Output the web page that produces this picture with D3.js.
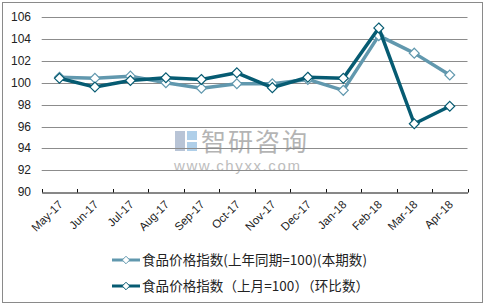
<!DOCTYPE html>
<html><head><meta charset="utf-8">
<script src="https://cdn.jsdelivr.net/npm/d3@7"></script>
<style>html,body{margin:0;padding:0;background:#fff}svg{display:block}</style>
</head><body>
<script>
const categories = ["May-17","Jun-17","Jul-17","Aug-17","Sep-17","Oct-17","Nov-17","Dec-17","Jan-18","Feb-18","Mar-18","Apr-18"];
const seriesYoY = [100.5,100.4,100.6,100.0,99.5,99.9,99.9,100.3,99.3,104.3,102.7,100.7];
const seriesMoM = [100.4,99.6,100.2,100.45,100.3,100.9,99.55,100.5,100.4,105.0,96.25,97.85];
const yTicks = [90,92,94,96,98,100,102,104,106];
const seriesNames = ["食品价格指数(上年同期=100)(本期数)","食品价格指数（上月=100）（环比数）"];
const colors = ["#6198ae","#065b72"];

const W=486,H=306;
const svg=d3.select("body").append("svg").attr("width",W).attr("height",H);
svg.append("rect").attr("x",2.5).attr("y",2.5).attr("width",480).attr("height",300).attr("fill","#fff").attr("stroke","#8a8a8a");

const x=d3.scaleBand().domain(categories).range([41.7,467.5]);
const y=d3.scaleLinear().domain([90,106]).range([192.2,17]);

// watermark
const wm=svg.append("g").attr("opacity",0.55);
wm.append("rect").attr("x",175).attr("y",131).attr("width",10).attr("height",20).attr("fill","#7f95b5");
wm.append("rect").attr("x",187).attr("y",131).attr("width",10).attr("height",9).attr("fill","#6fa8d8");
wm.append("rect").attr("x",187).attr("y",142).attr("width",10).attr("height",9).attr("fill","#6fa8d8");
wm.append("text").attr("x",201).attr("y",151).attr("font-family","Noto Sans CJK SC").attr("font-size",25).attr("fill","#777").attr("letter-spacing",2).text("智研咨询");
wm.append("text").attr("x",174).attr("y",171).attr("font-family","Liberation Sans, Arial").attr("font-size",15).attr("fill","#888").attr("letter-spacing",1.6).text("www.chyxx.com");

// gridlines
svg.append("g").selectAll("line").data(yTicks.filter(d=>d>90)).join("line")
 .attr("x1",41.7).attr("x2",467.5).attr("y1",d=>Math.round(y(d))+0.5).attr("y2",d=>Math.round(y(d))+0.5)
 .attr("stroke","#8c8c8c").attr("stroke-width",1);

// y labels
svg.append("g").selectAll("text").data(yTicks).join("text")
 .attr("x",31).attr("y",d=>y(d)+4).attr("text-anchor","end")
 .attr("font-family","Liberation Sans, Arial").attr("font-size",12).attr("fill","#222").text(d=>d);

// x axis
const ax=svg.append("g").attr("transform",`translate(0,${Math.round(y(90))+0.5})`)
 .call(d3.axisBottom(x).tickSize(0).tickFormat(""));
ax.select(".domain").attr("stroke","#111");
const bounds=categories.map(c=>x(c)).concat([x.range()[1]]);
svg.append("g").selectAll("line").data(bounds).join("line")
 .attr("x1",d=>Math.round(d)+0.5).attr("x2",d=>Math.round(d)+0.5)
 .attr("y1",Math.round(y(90))-3).attr("y2",Math.round(y(90))+0.5).attr("stroke","#111");

svg.append("g").selectAll("text").data(categories).join("text")
 .attr("transform",d=>`translate(${x(d)+x.bandwidth()/2+4},${y(90)+13}) rotate(-45)`)
 .attr("text-anchor","end").attr("font-family","Liberation Sans, Arial").attr("font-size",11.5).attr("fill","#222").text(d=>d);

const line=d3.line().x((d,i)=>x(categories[i])+x.bandwidth()/2).y(d=>y(d));
const diamond=d3.symbol().type(d3.symbolDiamond2).size(62);
[seriesYoY,seriesMoM].forEach((s,k)=>{
  svg.append("path").datum(s).attr("d",line).attr("fill","none").attr("stroke",colors[k]).attr("stroke-width",3.5).attr("stroke-linejoin","round");
  svg.append("g").selectAll("path").data(s).join("path")
   .attr("transform",(d,i)=>`translate(${x(categories[i])+x.bandwidth()/2},${y(d)})`)
   .attr("d",diamond).attr("fill","#fff").attr("stroke",colors[k]).attr("stroke-width",1.2);
});

// legend
const ly=[260,286];
const lw=[225,227];
seriesNames.forEach((n,k)=>{
  const g=svg.append("g");
  g.append("line").attr("x1",112).attr("x2",140).attr("y1",ly[k]).attr("y2",ly[k]).attr("stroke",colors[k]).attr("stroke-width",3);
  g.append("path").attr("transform",`translate(126,${ly[k]})`).attr("d",d3.symbol().type(d3.symbolDiamond2).size(36)).attr("fill","#fff").attr("stroke",colors[k]);
  g.append("text").attr("x",142).attr("y",ly[k]+5).attr("font-family","Noto Sans CJK SC").attr("font-size",13.5)
   .attr("textLength",lw[k]).attr("lengthAdjust","spacing").attr("fill","#222").text(n);
});
</script>
</body></html>
